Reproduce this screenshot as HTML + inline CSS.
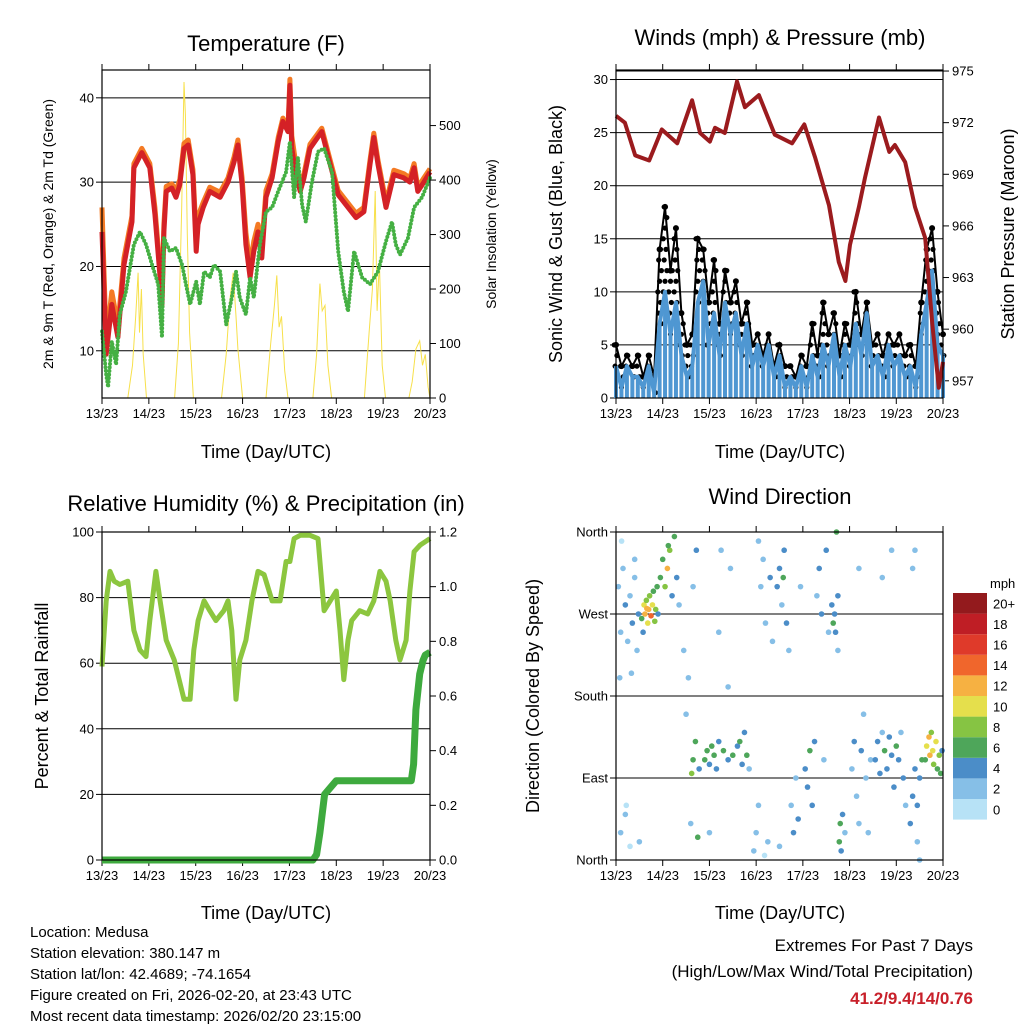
<!DOCTYPE html>
<html><head><meta charset="utf-8"><style>
html,body{margin:0;padding:0;background:#fff;}
svg{display:block;font-family:"Liberation Sans",sans-serif;}
</style></head><body>
<svg id="root" width="1024" height="1024" viewBox="0 0 1024 1024">
<rect width="1024" height="1024" fill="#fff"/>
<g id="layer"></g>
<g font-size="22" text-anchor="middle">
<text x="266" y="51">Temperature (F)</text>
<text x="780" y="45">Winds (mph) &amp; Pressure (mb)</text>
<text x="266" y="511">Relative Humidity (%) &amp; Precipitation (in)</text>
<text x="780" y="504">Wind Direction</text>
</g>
<g font-size="18" text-anchor="middle">
<text x="266" y="458">Time (Day/UTC)</text>
<text x="780" y="458">Time (Day/UTC)</text>
<text x="266" y="919">Time (Day/UTC)</text>
<text x="780" y="919">Time (Day/UTC)</text>
<text transform="translate(53,234) rotate(-90)" font-size="14">2m &amp; 9m T (Red, Orange) &amp; 2m Td (Green)</text>
<text transform="translate(496,234) rotate(-90)" font-size="14">Solar Insolation (Yellow)</text>
<text transform="translate(562,234) rotate(-90)">Sonic Wind &amp; Gust (Blue, Black)</text>
<text transform="translate(1014,234) rotate(-90)">Station Pressure (Maroon)</text>
<text transform="translate(48,696) rotate(-90)">Percent &amp; Total Rainfall</text>
<text transform="translate(539,696) rotate(-90)">Direction (Colored By Speed)</text>
</g>
<g font-size="15">
<text x="30" y="937">Location: Medusa</text>
<text x="30" y="958">Station elevation: 380.147 m</text>
<text x="30" y="979">Station lat/lon: 42.4689; -74.1654</text>
<text x="30" y="1000">Figure created on Fri, 2026-02-20, at 23:43 UTC</text>
<text x="30" y="1021">Most recent data timestamp: 2026/02/20 23:15:00</text>
</g>
<g font-size="17" text-anchor="end">
<text x="973" y="951">Extremes For Past 7 Days</text>
<text x="973" y="977">(High/Low/Max Wind/Total Precipitation)</text>
<text x="973" y="1004" fill="#c8202a" font-weight="bold">41.2/9.4/14/0.76</text>
</g>
</svg>
<script>
// ---------- data ----------
const dayLabels = ["13/23","14/23","15/23","16/23","17/23","18/23","19/23","20/23"];
const tempTicks = [10,20,30,40];
const solarTicks = [0,100,200,300,400,500];
const windTicks = [0,5,10,15,20,25,30];
const presTicks = [957,960,963,966,969,972,975];
const rhTicks = [0,20,40,60,80,100];
const precipTicks = ["0.0","0.2","0.4","0.6","0.8","1.0","1.2"];
const dirTickLabels = ["North","East","South","West","North"];
const dirTickValues = [0,90,180,270,360];
const speedLevels = ["0","2","4","6","8","10","12","14","16","18","20+"];
const speedColors = ["#b7e2f6","#86bfe7","#4b8dc8","#4ea65a","#86c443","#e5df4c","#f6b142","#f0662c","#df3a2a","#bf1e25","#931a1d"];

const redT = [0,.09,.21,.34,.47,.64,.68,.85,1.02,1.13,1.24,1.28,1.32,1.37,1.49,1.58,1.66,1.75,1.84,1.94,2.01,2.05,2.16,2.30,2.52,2.69,2.82,2.90,2.99,3.07,3.16,3.24,3.33,3.41,3.50,3.63,3.76,3.86,3.97,4.01,4.05,4.14,4.23,4.31,4.44,4.69,4.87,5.04,5.21,5.42,5.59,5.72,5.80,5.89,6.06,6.23,6.44,6.57,6.66,6.74,6.87,7.0];
const redV = [24.1,9.6,15.5,11.6,20.2,25.3,31.7,33.5,31.7,26.2,18.7,15.5,24.1,28.9,29.3,28.2,29.7,34,34.4,30.9,21.8,25,27,28.9,28.2,30,32.4,34.4,29.7,22.6,18.7,21.8,24.1,21,28.2,30.5,34.8,37.2,36,41.5,34,30.9,28.9,30.5,34,36,32.1,28.5,27.3,25.8,26.5,32.1,35.3,32.1,27,30.9,30.5,30,31.7,28.9,30,31.2];
const orangeV = [27,11,17,13,21,26,32.2,34,32.2,27,19.5,16.5,25,29.5,29.8,29,30.3,34.6,35,31.5,23.5,26,27.6,29.4,28.8,30.5,33,35,30.5,24,20,23,25,22.5,29,31,35.3,37.6,36.5,42.2,35.5,32,30,31,34.5,36.4,32.6,29,27.8,26.3,27,32.6,35.8,32.6,27.6,31.4,31,30.5,32.2,29.4,30.5,31.6];
const dewT = [0,.09,.13,.21,.30,.38,.51,.68,.81,.94,1.07,1.20,1.28,1.32,1.45,1.58,1.71,1.79,1.88,2.01,2.09,2.18,2.30,2.39,2.52,2.65,2.77,2.86,2.94,3.07,3.16,3.24,3.37,3.50,3.63,3.76,3.93,4.01,4.10,4.18,4.27,4.35,4.48,4.61,4.74,4.91,5.04,5.16,5.25,5.38,5.55,5.72,5.89,6.06,6.19,6.27,6.36,6.53,6.66,6.83,7.0];
const dewV = [12.3,7.2,5.7,11.1,8.4,14.3,17,22.6,24.1,22.6,20.2,17.9,11.6,23.4,21.8,22.2,20.2,17.9,15.5,18.2,15.5,19.4,18.7,20.2,19.4,13.1,16.3,19.4,16.3,14.3,18.7,16.3,22.6,26.5,27,28.9,31.2,34.8,28.2,32.9,27.3,25.3,30,33.6,34,31.2,21.8,17,14.7,21.8,18.7,17.9,19.4,23,25.3,22.6,21.4,23.4,27,28.2,30.5];
const solarT = [0,.55,.65,.72,.77,.8,.84,.88,.95,1.55,1.63,1.7,1.75,1.78,1.82,1.87,1.95,2.55,2.65,2.73,2.8,2.86,2.9,3.0,3.5,3.6,3.68,3.73,3.78,3.83,3.9,3.97,4.5,4.58,4.65,4.7,4.76,4.82,4.9,5.6,5.7,5.77,5.83,5.87,5.92,5.98,6.05,6.55,6.62,6.7,6.78,6.84,6.9,6.96,7.0];
const solarV = [0,0,60,150,230,120,200,80,0,0,100,350,580,520,300,120,0,0,80,180,230,150,90,0,0,100,170,225,130,150,50,0,0,80,210,160,170,60,0,0,120,200,380,160,250,60,0,0,30,90,105,60,80,20,0];

const presT = [0,.19,.41,.71,.98,1.31,1.63,1.80,2.01,2.12,2.33,2.59,2.76,3.06,3.40,3.77,4.03,4.26,4.56,4.77,4.91,5.01,5.20,5.33,5.63,5.85,5.97,6.19,6.40,6.62,6.77,6.91,7.0];
const presV = [972.4,972.0,970.1,969.8,971.6,970.8,973.3,971.4,970.9,971.7,971.4,974.4,972.9,973.6,971.3,970.8,971.9,970,967.2,963.9,962.8,964.9,967.1,968.8,972.3,970.3,970.7,969.7,967.1,965.3,960.3,956.6,958.1];
const speedV = [3,1,3,2,2,1,3,0.5,7,10,6,9,4,2,3,9,11,5,8,4,9,6,8,4,7,3,5,3,5,2,4,1,2,1,3,1,4,2,5,3,6,2,5,3,7,4,8,3,4,2,5,3,4,2,3,1,6];
const gustV = [5,3,4,3,4,2,4,2,14,18,12,16,8,5,6,15,14,9,13,7,12,9,11,7,9,5,6,4,6,3,5,3,3,2,4,3,7,4,9,6,8,4,7,5,10,6,9,5,6,4,6,5,6,4,5,3,9];
const speedLate = [9,12,5,4];
const gustLate = [14,16,10,6];

const rhT = [0,.09,.17,.26,.38,.55,.68,.81,.94,1.02,1.15,1.24,1.37,1.54,1.75,1.88,1.96,2.05,2.18,2.30,2.43,2.60,2.69,2.77,2.86,2.94,3.07,3.20,3.33,3.46,3.63,3.80,3.93,4.01,4.10,4.23,4.44,4.61,4.74,4.87,5.00,5.08,5.16,5.25,5.33,5.50,5.67,5.80,5.93,6.06,6.15,6.27,6.36,6.49,6.57,6.66,6.79,7.0];
const rhV = [59,79,88,85,84,85,70,64,62,73,88,79,67,61,49,49,64,73,79,76,73,76,79,70,49,61,67,79,88,87,79,79,91,91,98,99,99,98,76,79,82,70,55,67,73,76,75,79,88,85,79,67,61,67,82,94,96,98];
const precipT = [0,4.5,4.58,4.65,4.75,4.9,5.0,6.6,6.65,6.7,6.78,6.85,6.9,7.0];
const precipV = [0,0,.02,.1,.24,.27,.29,.29,.35,.55,.68,.73,.75,.76];

const dirObs = [
[.05,300,1],[.1,250,2],[.15,320,1],[.2,280,3],[.25,240,2],[.3,290,1],[.35,260,3],[.4,310,2],[.45,230,1],[.1,30,1],[.2,50,1],[.3,15,0],[.4,330,1],[.48,270,4],[.5,20,2],[.12,350,0],[.08,200,2],[.22,60,0],[.33,205,2],
[.55,265,6],[.6,280,9],[.62,270,11],[.65,285,8],[.68,260,10],[.7,275,12],[.72,290,7],[.75,268,13],[.78,280,9],[.8,295,6],[.85,275,8],[.88,300,5],[.58,250,4],[.9,270,4],[.83,262,7],[.66,276,11],
[.95,310,6],[1.0,330,5],[1.05,300,8],[1.1,320,11],[1.15,340,7],[1.2,290,4],[1.25,355,6],[1.3,310,3],[1.35,280,2],[1.45,230,1],[1.5,160,2],[1.55,200,1],[1.6,40,1],[1.12,345,6],
[1.62,95,7],[1.65,110,5],[1.7,130,6],[1.75,25,5],[1.78,100,4],[1.65,300,2],[1.72,340,3],
[1.9,110,5],[1.95,120,6],[2.0,105,4],[2.05,125,5],[2.1,115,6],[2.15,100,3],[2.2,130,4],[2.3,120,5],[2.4,110,3],[2.5,115,6],[2.6,125,4],[2.65,130,5],[2.7,105,3],[2.75,140,4],[2.8,115,5],[2.85,100,2],[2.0,30,1],[2.2,250,1],[2.4,190,1],[2.45,320,1],[2.25,340,2],
[2.95,10,1],[3.0,30,2],[3.05,60,1],[3.1,300,2],[3.15,330,1],[3.2,260,1],[3.25,20,2],[3.3,310,3],[3.35,240,2],[3.05,350,1],[3.18,5,0],
[3.45,300,3],[3.5,320,4],[3.55,280,2],[3.6,340,3],[3.65,260,4],[3.7,230,2],[3.75,60,2],[3.8,30,3],[3.85,90,1],[3.9,45,4],[3.95,300,2],[3.5,15,1],[3.58,310,5],
[4.05,100,4],[4.1,80,3],[4.15,120,5],[4.2,60,3],[4.25,130,4],[4.3,290,2],[4.35,320,3],[4.4,270,4],[4.45,110,2],[4.5,340,3],[4.55,250,2],
[4.62,280,4],[4.65,260,5],[4.7,250,3],[4.75,290,4],[4.78,20,5],[4.8,40,6],[4.82,10,3],[4.85,50,4],[4.75,230,2],[4.72,360,6],[4.9,30,2],[4.68,270,4],
[5.05,100,2],[5.1,130,3],[5.15,70,1],[5.2,40,2],[5.25,120,3],[5.3,160,1],[5.35,90,2],[5.4,30,1],[5.45,110,2],[5.2,320,1],
[5.55,110,4],[5.6,130,3],[5.65,95,4],[5.7,140,2],[5.75,120,5],[5.8,100,4],[5.85,135,3],[5.9,115,4],[5.95,80,3],[6.0,125,5],[6.05,110,3],[6.1,140,2],[6.15,90,3],[6.2,60,2],[5.7,310,1],[5.9,340,1],
[6.3,40,3],[6.35,70,4],[6.4,100,3],[6.45,20,2],[6.5,90,4],[6.55,110,5],[6.35,320,1],[6.4,340,1],[6.5,0,2],[6.45,60,4],
[6.62,110,6],[6.65,125,9],[6.7,135,11],[6.72,115,12],[6.75,140,8],[6.78,120,10],[6.8,105,7],[6.85,130,9],[6.88,100,6],[6.92,115,8],[6.95,95,5],[6.98,120,4]
];

// ---------- helpers ----------
const NS = "http://www.w3.org/2000/svg";
const layer = document.getElementById("layer");
function lin(d0,d1,r0,r1){return v=>r0+(v-d0)*(r1-r0)/(d1-d0);}
function el(tag,attrs,parent){const e=document.createElementNS(NS,tag);for(const k in attrs)e.setAttribute(k,attrs[k]);(parent||layer).appendChild(e);return e;}
function pathFrom(ts,vs,sx,sy){return ts.map((t,i)=>(i?"L":"M")+sx(t).toFixed(1)+","+sy(vs[i]).toFixed(1)).join("");}
function colorFor(s){let i=Math.round(s/2);if(i>10)i=10;if(i<0)i=0;return speedColors[i];}

function frame(x0,x1,y0,y1,name){
  const xs=lin(0,7,x0,x1);
  dayLabels.forEach((lab,i)=>{
    const X=xs(i);
    const tb=el("line",{x1:X,x2:X,y1:y1,y2:y1+6,stroke:"#000","stroke-width":1});
    
    
    const tt=el("line",{x1:X,x2:X,y1:y0,y2:y0-6,stroke:"#000","stroke-width":1});
    
    
    const tx=el("text",{x:X,y:y1+20,"font-size":13,"text-anchor":"middle"});
    tx.textContent=lab;
    
    
  });
  return xs;
}
function box(x0,x1,y0,y1,name){
  const b=el("rect",{x:x0,y:y0,width:x1-x0,height:y1-y0,fill:"none",stroke:"#000","stroke-width":1.2});
  
  
}
function yTicks(vals,labels,sy,X,side,grid,x0,x1,name){
  vals.forEach((v,i)=>{
    const Y=sy(v);
    if(grid){const g=el("line",{x1:x0,x2:x1,y1:Y,y2:Y,stroke:"#000","stroke-width":1});
      
      }
    const t=el("line",{x1:X,x2:X+(side<0?-6:6),y1:Y,y2:Y,stroke:"#000","stroke-width":1});
    
    
    const tx=el("text",{x:X+(side<0?-8:9),y:Y+4.5,"font-size":13,"text-anchor":side<0?"end":"start"});
    tx.textContent=labels[i];
    
    
  });
}

// ---------- Panel 1: temperature ----------
(function(){
  const x0=102,x1=430,y0=70,y1=398;
  const xs=frame(x0,x1,y0,y1,"temp");
  const yT=lin(4.4,43.3,y1,y0), yS=lin(0,602,y1,y0);
  yTicks(tempTicks,tempTicks,yT,x0,-1,true,x0,x1,"temp-y");
  yTicks(solarTicks,solarTicks,yS,x1,1,false,x0,x1,"solar-y");
  const s=el("path",{d:pathFrom(solarT,solarV,xs,yS),fill:"none",stroke:"#f7e04a","stroke-width":1});
  
  
  const o=el("path",{d:pathFrom(redT,orangeV,xs,yT),fill:"none",stroke:"#f47a24","stroke-width":5,"stroke-linejoin":"round"});
  
  
  const r=el("path",{d:pathFrom(redT,redV,xs,yT),fill:"none",stroke:"#d42126","stroke-width":5,"stroke-linejoin":"round"});
  
  
  const g=el("path",{d:pathFrom(dewT,dewV,xs,yT),fill:"none",stroke:"#45b043","stroke-width":4,"stroke-dasharray":"0 3.6","stroke-linecap":"round"});
  
  
  box(x0,x1,y0,y1,"temp");
})();

// ---------- Panel 2: winds & pressure ----------
(function(){
  const x0=616,x1=943,y0=70,y1=398;
  const xs=frame(x0,x1,y0,y1,"wind");
  const yW=lin(0,30.9,y1,y0), yP=lin(956,975.06,y1,y0);
  yTicks(windTicks,windTicks,yW,x0,-1,true,x0,x1,"wind-y");
  yTicks(presTicks,presTicks,yP,x1,1,false,x0,x1,"pressure-y");
  const sp=speedV.concat(speedLate), gu=gustV.concat(gustLate);
  const n=sp.length, step=7/(n-1);
  const ts=sp.map((v,i)=>i*step);
  // gust envelope: dots between speed and gust
  sp.forEach((v,i)=>{
    const t=ts[i];
    for(let k=v;k<=gu[i];k+=1.0){
      const dx=((k*7)%5-2)*0.9;
      const gd=el("circle",{cx:xs(t)+dx,cy:yW(k),r:2.6,fill:"#000"});
      
      
    }
    const gt=el("circle",{cx:xs(t),cy:yW(gu[i]),r:3,fill:"#000"});
    
    
  });
  const gl=el("path",{d:pathFrom(ts,gu,xs,yW),fill:"none",stroke:"#000","stroke-width":2});
  
  
  sp.forEach((v,i)=>{
    const t=ts[i];
    const bl=el("line",{x1:xs(t),x2:xs(t),y1:yW(0),y2:yW(v),stroke:"#4f97d2","stroke-width":4});
    
    
  });
  const wl=el("path",{d:pathFrom(ts,sp,xs,yW),fill:"none",stroke:"#4f97d2","stroke-width":4,"stroke-linejoin":"round"});
  
  
  const top=el("line",{x1:x0,x2:x1,y1:yP(975),y2:yP(975),stroke:"#000","stroke-width":1});
  
  
  const p=el("path",{d:pathFrom(presT,presV,xs,yP),fill:"none",stroke:"#9b1b1e","stroke-width":4,"stroke-linejoin":"round"});
  
  
  box(x0,x1,y0,y1,"wind");
})();

// ---------- Panel 3: RH & precip ----------
(function(){
  const x0=102,x1=430,y0=532,y1=860;
  const xs=frame(x0,x1,y0,y1,"rh");
  const yR=lin(0,100,y1,y0), yPr=lin(0,1.2,y1,y0);
  yTicks(rhTicks,rhTicks,yR,x0,-1,true,x0,x1,"rh-y");
  yTicks(precipTicks.map(Number),precipTicks,yPr,x1,1,false,x0,x1,"precip-y");
  const r=el("path",{d:pathFrom(rhT,rhV,xs,yR),fill:"none",stroke:"#8cc63f","stroke-width":5,"stroke-linejoin":"round"});
  
  
  const p=el("path",{d:pathFrom(precipT,precipV,xs,yPr),fill:"none",stroke:"#3eaa3e","stroke-width":7,"stroke-linejoin":"round"});
  
  
  box(x0,x1,y0,y1,"rh");
})();

// ---------- Panel 4: wind direction ----------
(function(){
  const x0=616,x1=943,y0=532,y1=860;
  const xs=frame(x0,x1,y0,y1,"dir");
  const yD=lin(0,360,y1,y0);
  yTicks(dirTickValues,dirTickLabels,yD,x0,-1,true,x0,x1,"dir-y");
  dirObs.forEach(o=>{
    const c=el("circle",{cx:xs(o[0]),cy:yD(o[1]),r:2.8,fill:colorFor(o[2])});
    
    
  });
  box(x0,x1,y0,y1,"dir");
  const lt=el("text",{x:990,y:588,"font-size":13});
  lt.textContent="mph";
  
  
  const h=20.6;
  speedLevels.forEach((lab,i)=>{
    const Y=593+(10-i)*h;
    const rc=el("rect",{x:953,y:Y,width:34,height:h,fill:speedColors[i]});
    
    
    const tx=el("text",{x:993,y:Y+h/2+5,"font-size":13});
    tx.textContent=lab;
    
    
  });
})();
</script>
</body></html>
